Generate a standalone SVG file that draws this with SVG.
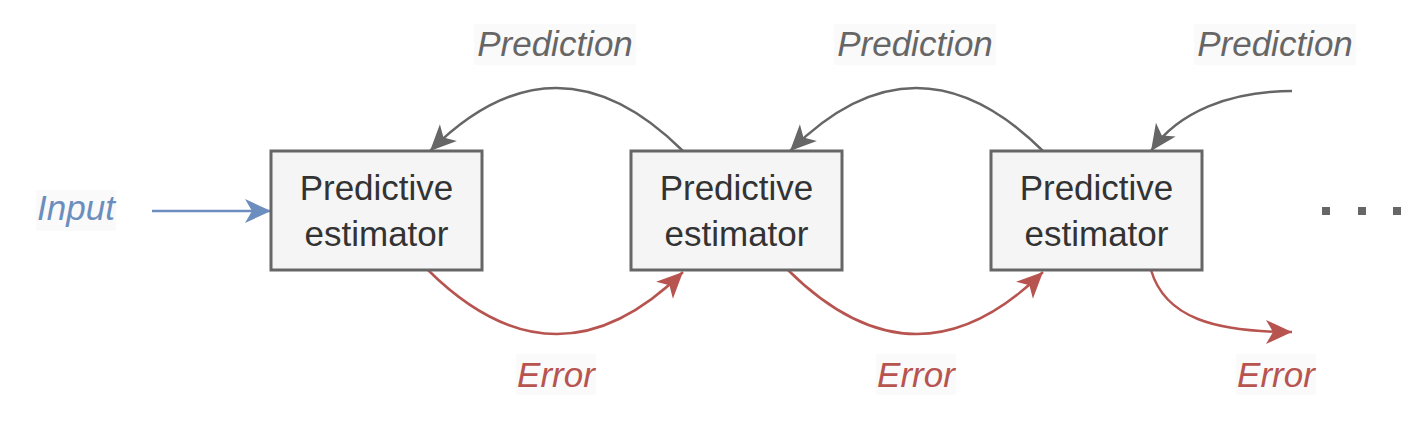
<svg xmlns="http://www.w3.org/2000/svg" width="1419" height="423" viewBox="0 0 1419 423">
<style>
.box{fill:#f5f5f5;stroke:#666666;stroke-width:3}
.bt{font-family:"Liberation Sans",Arial,sans-serif;font-size:35px;fill:#333333;text-anchor:middle}
.lbl{font-family:"Liberation Sans",Arial,sans-serif;font-size:35px;font-style:italic;text-anchor:middle}
.lbg{fill:#fafafa}
.g{fill:none;stroke:#666666;stroke-width:2.5}
.r{fill:none;stroke:#b85450;stroke-width:2.5}
.b{fill:none;stroke:#6c8ebf;stroke-width:2.5}
</style>
<defs>
<marker id="ag" markerUnits="userSpaceOnUse" markerWidth="30" markerHeight="30" viewBox="-28 -14 30 28" refX="0" refY="0" orient="auto"><path d="M0,0 L-26,-12 L-19,0 L-26,12 Z" fill="#666666"/></marker>
<marker id="ar" markerUnits="userSpaceOnUse" markerWidth="30" markerHeight="30" viewBox="-28 -14 30 28" refX="0" refY="0" orient="auto"><path d="M0,0 L-26,-12 L-19,0 L-26,12 Z" fill="#b85450"/></marker>
<marker id="ab" markerUnits="userSpaceOnUse" markerWidth="30" markerHeight="30" viewBox="-28 -14 30 28" refX="0" refY="0" orient="auto"><path d="M0,0 L-26,-12 L-19,0 L-26,12 Z" fill="#6c8ebf"/></marker>
</defs>
<g id="connectors">
<path class="b" d="M152,211 L271,211" marker-end="url(#ab)"/>
<path class="g" d="M683,151 Q556,25 430,151" marker-end="url(#ag)"/>
<path class="g" d="M1043,151 Q916,25 790,151" marker-end="url(#ag)"/>
<path class="g" d="M1292,91 C1230,91 1178,112 1151,151" marker-end="url(#ag)"/>
<path class="r" d="M428,270 Q556,397 683,272" marker-end="url(#ar)"/>
<path class="r" d="M788,270 Q916,397 1043,272" marker-end="url(#ar)"/>
<path class="r" d="M1151,270 C1165,318 1215,332 1292,332" marker-end="url(#ar)"/>
</g>
<g id="node1"><rect class="box" x="271" y="151" width="211" height="119"/><text class="bt" x="376.5" y="200">Predictive</text><text class="bt" x="376.5" y="246">estimator</text></g>
<g id="node2"><rect class="box" x="631" y="151" width="211" height="119"/><text class="bt" x="736.5" y="200">Predictive</text><text class="bt" x="736.5" y="246">estimator</text></g>
<g id="node3"><rect class="box" x="991" y="151" width="211" height="119"/><text class="bt" x="1096.5" y="200">Predictive</text><text class="bt" x="1096.5" y="246">estimator</text></g>
<g id="label-input"><rect class="lbg" x="36" y="190" width="80" height="41"/><text class="lbl" x="76" y="220" fill="#6c8ebf">Input</text></g>
<g id="label-pred1"><rect class="lbg" x="474" y="24" width="162" height="41"/><text class="lbl" x="555" y="56" fill="#666666">Prediction</text></g>
<g id="label-pred2"><rect class="lbg" x="834" y="24" width="162" height="41"/><text class="lbl" x="915" y="56" fill="#666666">Prediction</text></g>
<g id="label-pred3"><rect class="lbg" x="1194" y="24" width="162" height="41"/><text class="lbl" x="1275" y="56" fill="#666666">Prediction</text></g>
<g id="label-err1"><rect class="lbg" x="516" y="354" width="80" height="41"/><text class="lbl" x="556" y="387" fill="#b85450">Error</text></g>
<g id="label-err2"><rect class="lbg" x="876" y="354" width="80" height="41"/><text class="lbl" x="916" y="387" fill="#b85450">Error</text></g>
<g id="label-err3"><rect class="lbg" x="1236" y="354" width="80" height="41"/><text class="lbl" x="1276" y="387" fill="#b85450">Error</text></g>
<g id="dots" fill="#666666"><rect x="1322" y="207" width="8" height="8"/><rect x="1358" y="207" width="8" height="8"/><rect x="1393" y="207" width="8" height="8"/></g>
</svg>
